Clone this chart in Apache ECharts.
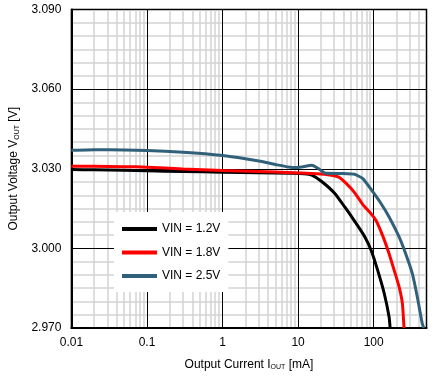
<!DOCTYPE html>
<html><head><meta charset="utf-8">
<script src="https://cdn.jsdelivr.net/npm/echarts@6/dist/echarts.min.js"></script>
<style>html,body{margin:0;padding:0;background:#fff}#c{width:441px;height:386px}</style>
</head><body><div id="c"></div>
<script>
// Output current (mA), output voltage (V)
const vin12I = [0.01,0.02,0.05,0.1,0.3,1,3,8.3,12,15.2,20.5,30.6,41.4,55.9,75.5,92.5,113,138,160,165];
const vin12V = [3.0297,3.0296,3.0294,3.0292,3.0290,3.0287,3.0285,3.0283,3.0281,3.0276,3.0252,3.0207,3.0156,3.0103,3.0046,2.9993,2.9917,2.9830,2.9741,2.9700];
const vin18I = [0.01,0.02,0.05,0.1,0.3,1,3,8.3,15,22.6,33.9,43.6,55.9,71.9,92.5,107,131,160,187,217,240,252];
const vin18V = [3.0309,3.0309,3.0308,3.0306,3.0299,3.0293,3.0290,3.0285,3.0282,3.0279,3.0269,3.0244,3.0210,3.0165,3.0130,3.0106,3.0049,2.9980,2.9917,2.9855,2.9792,2.9700];
const vin25I = [0.01,0.02,0.05,0.1,0.3,1,2,3.3,5,8.3,11.2,15.2,18.5,22.6,37.4,55.9,71.9,92.5,125,160,217,265,325,378,439,461];
const vin25V = [3.0370,3.0372,3.0371,3.0369,3.0362,3.0350,3.0338,3.0327,3.0316,3.0305,3.0307,3.0313,3.0301,3.0284,3.0282,3.0279,3.0263,3.0222,3.0169,3.0118,3.0043,2.9980,2.9905,2.9817,2.9717,2.9700];
const seriesNames = ['VIN = 1.2V','VIN = 1.8V','VIN = 2.5V'];
const seriesColors = ['#000000','#ff0000','#31617a'];
const xMinorGrid = [0.02,0.03,0.04,0.05,0.06,0.07,0.08,0.09,0.2,0.3,0.4,0.5,0.6,0.7,0.8,0.9,2,3,4,5,6,7,8,9,20,30,40,50,60,70,80,90,200,300,400];
const yTicks = {min: 2.97, max: 3.09, interval: 0.03};
const xRange = {min: 0.01, max: 500};

const zip = (a,b) => a.map((v,i)=>[v,b[i]]);
const chart = echarts.init(document.getElementById('c'));
const font = 'Liberation Sans, Arial, sans-serif';
const dataSeries = [[vin12I,vin12V],[vin18I,vin18V],[vin25I,vin25V]].map((d,i)=>({
  name: seriesNames[i], type:'line', data: zip(d[0],d[1]), showSymbol:false, symbol:'none',
  smooth: 0.15, z: 3, lineStyle:{color:seriesColors[i], width:3}, itemStyle:{color:seriesColors[i]}
}));
chart.setOption({
  animation:false,
  textStyle:{fontFamily:font},
  grid:{left:67, right:14.5, top:9.5, bottom:58, show:true, borderColor:'#000', borderWidth:1.5, backgroundColor:'transparent'},
  legend:{
    data: seriesNames.map(n=>({name:n, icon:'rect'})), orient:'vertical', left:114, top:212, z:10,
    backgroundColor:'#fff', padding:[10,8,9,8], itemWidth:35, itemHeight:4, itemGap:9.5,
    textStyle:{fontSize:12, color:'#000', fontFamily:font, lineHeight:14}
  },
  xAxis:{
    type:'log', logBase:10, min:xRange.min, max:xRange.max, z:1,
    name:'{a|Output Current I}{s|OUT}{a| [mA]}', nameLocation:'middle', nameGap:30,
    nameTextStyle:{rich:{a:{fontSize:12,color:'#000',fontFamily:font}, s:{fontSize:7,color:'#000',fontFamily:font,verticalAlign:'bottom',padding:[6,0,0,0]}}},
    axisLine:{show:true, lineStyle:{color:'#000', width:2}},
    axisTick:{show:false},
    axisLabel:{fontSize:12, color:'#000', margin:9, showMaxLabel:false,
      formatter: v => v>200 ? '' : String(+v.toPrecision(3))},
    splitLine:{show:true, lineStyle:{color:'#000', width:1}}
  },
  yAxis:{
    type:'value', min:yTicks.min, max:yTicks.max, interval:yTicks.interval, z:1,
    name:'{a|Output Voltage V}{s|OUT}{a| [V]}', nameLocation:'middle', nameGap:38,
    nameTextStyle:{rich:{a:{fontSize:12,color:'#000',fontFamily:font}, s:{fontSize:7,color:'#000',fontFamily:font,verticalAlign:'bottom',padding:[6,0,0,0]}}},
    axisLine:{show:true, lineStyle:{color:'#000', width:2}},
    axisTick:{show:false},
    axisLabel:{fontSize:12, color:'#000', margin:10, formatter: v => v.toFixed(3)},
    splitLine:{show:true, lineStyle:{color:'#000', width:1}},
    minorTick:{show:false, splitNumber:6},
    minorSplitLine:{show:true, lineStyle:{color:'#d3d3d3', width:1.5}}
  },
  series:[{
    name:'grid', type:'line', data:[], z:0, silent:true,
    markLine:{silent:true, z:0, zlevel:0, symbol:['none','none'], label:{show:false}, animation:false,
      lineStyle:{color:'#d3d3d3', width:1.5, type:'solid'},
      data: xMinorGrid.map(x=>({xAxis:x}))}
  }].concat(dataSeries)
});
</script></body></html>
